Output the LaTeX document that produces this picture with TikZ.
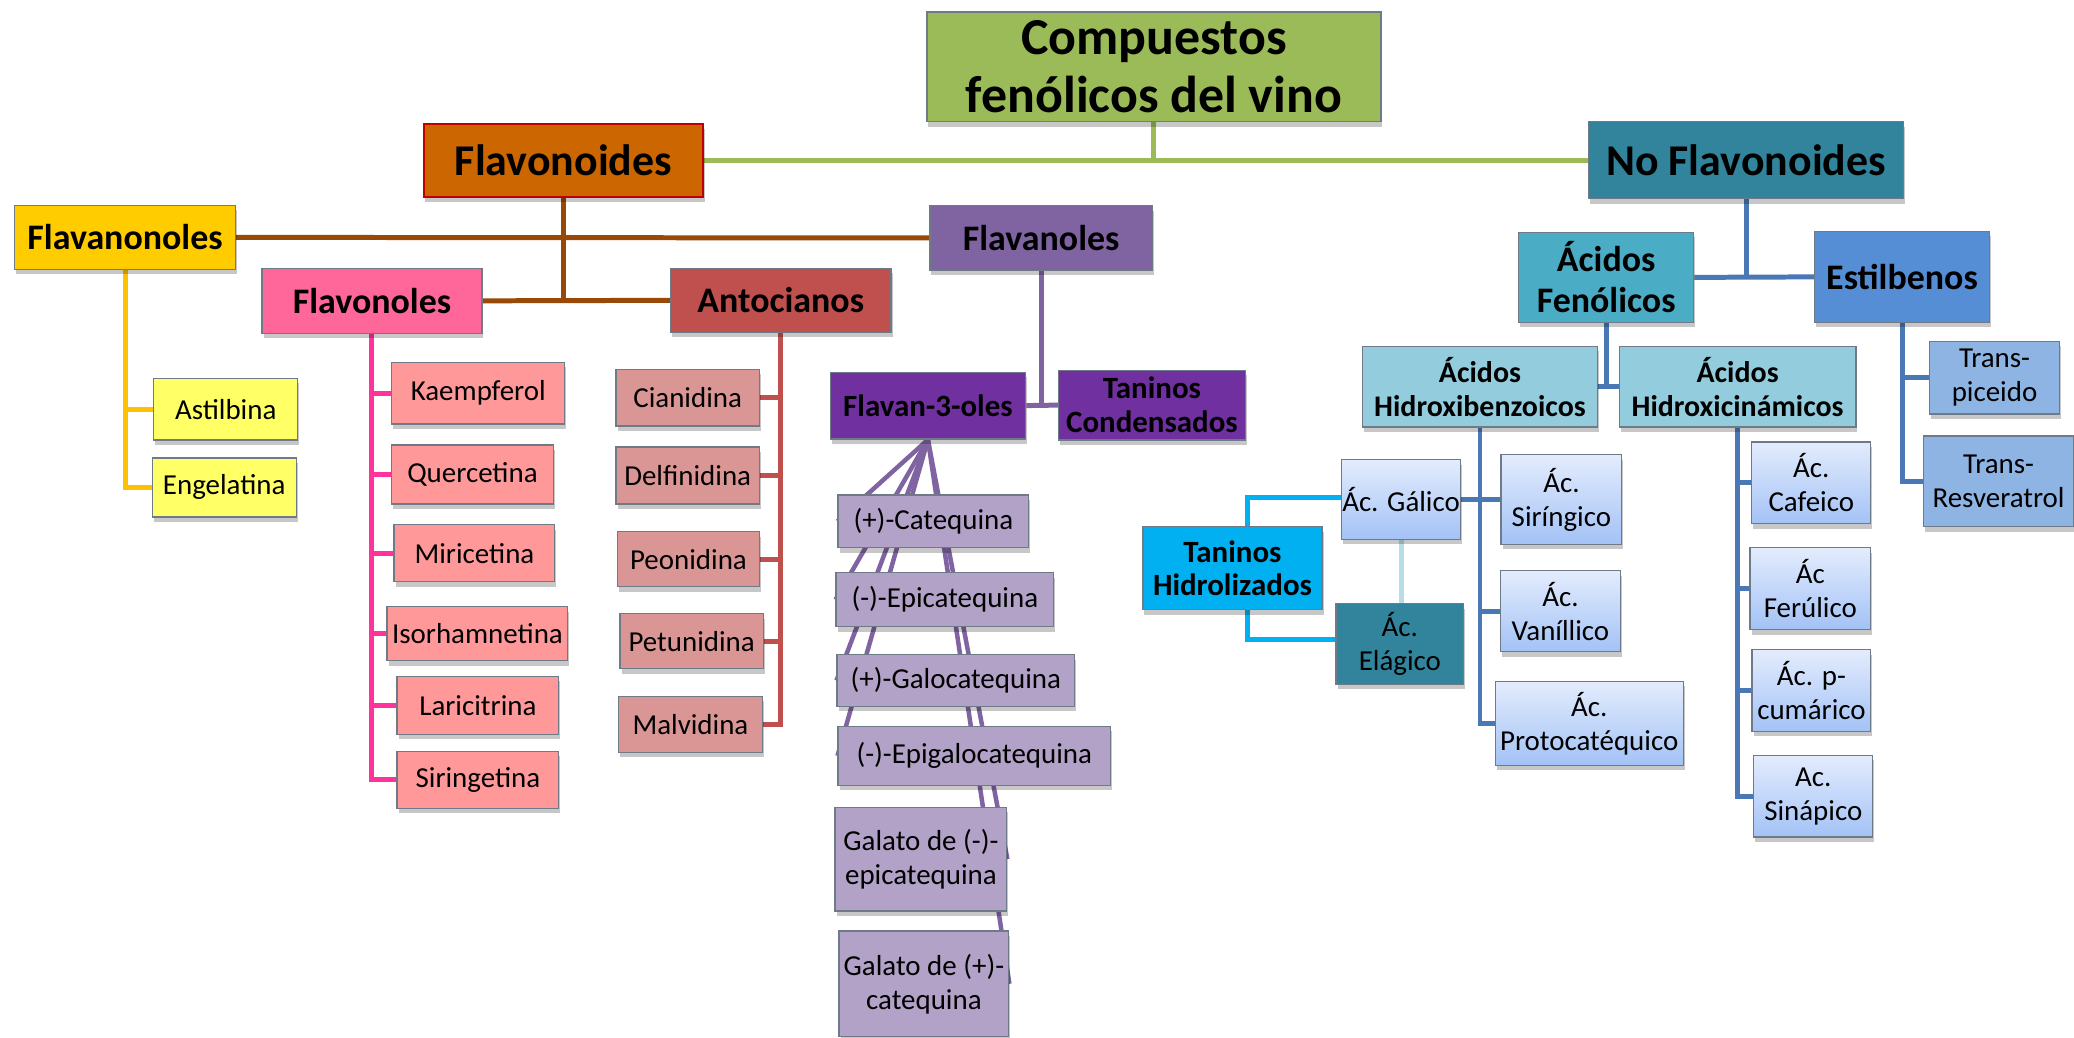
\documentclass[tikz,border=0pt]{standalone}
\usepackage{fontspec}
\setmainfont{Carlito}
\usetikzlibrary{shadows}
\pgfdeclarelayer{background}
\pgfsetlayers{background,main}
\definecolor{boxline}{HTML}{6E7A88}
\definecolor{cTop}{HTML}{9BBB59}
\definecolor{cFlavo}{HTML}{CC6600}
\definecolor{cFlavoLine}{HTML}{C00000}
\definecolor{cNoFlav}{HTML}{31849B}
\definecolor{cFlavanon}{HTML}{FFCC00}
\definecolor{cFlavonol}{HTML}{FF6699}
\definecolor{cAnto}{HTML}{C0504D}
\definecolor{cFlavanol}{HTML}{8064A2}
\definecolor{cAstil}{HTML}{FFFF66}
\definecolor{cPinkKid}{HTML}{FF9999}
\definecolor{cAntoKid}{HTML}{DA9694}
\definecolor{cDeepPurp}{HTML}{7030A0}
\definecolor{cLilac}{HTML}{B2A2C7}
\definecolor{cAcFen}{HTML}{4BACC6}
\definecolor{cEstil}{HTML}{558ED5}
\definecolor{cHidroxi}{HTML}{93CDDD}
\definecolor{cTrans}{HTML}{8EB4E3}
\definecolor{gTop}{HTML}{E3ECFD}
\definecolor{gBot}{HTML}{A3C2F6}
\definecolor{cTanHid}{HTML}{00B0F0}
\definecolor{lGreen}{HTML}{9BBB59}
\definecolor{lBrown}{HTML}{984807}
\definecolor{lYellow}{HTML}{FFC000}
\definecolor{lPink}{HTML}{FF3399}
\definecolor{lRed}{HTML}{C0504D}
\definecolor{lPurp}{HTML}{8064A2}
\definecolor{lBlue}{HTML}{4A78B4}
\definecolor{lCyan}{HTML}{00B0F0}
\definecolor{lLight}{HTML}{B7DEE8}
\begin{document}
\begin{tikzpicture}[x=1pt,y=-1pt,
  box/.style={draw=boxline, line width=1.3pt, inner sep=0pt, align=center,
    drop shadow={shadow xshift=1.5pt,shadow yshift=-5pt,opacity=0.22,fill=black}},
  gbox/.style={box, top color=gTop, bottom color=gBot},
  tNorm/.style={font=\fontsize{29}{34}\selectfont},
  tB52/.style={font=\fontsize{52}{58}\selectfont\bfseries},
  tB44/.style={font=\fontsize{44}{50}\selectfont\bfseries},
  tB36/.style={font=\fontsize{36}{41}\selectfont\bfseries},
  tB31/.style={font=\fontsize{31}{34}\selectfont\bfseries},
  tB30/.style={font=\fontsize{30}{34}\selectfont\bfseries},
  conn/.style={line width=5pt},
  fan/.style={line width=4.5pt, lPurp},
]
% ---------- level 0/1
\node[box, tB52, fill=cTop, minimum width=455pt, minimum height=110pt] (compuestos) at (1156.5,67) {Compuestos\\fenólicos del vino};
\node[box, tB44, fill=cFlavo, draw=cFlavoLine, line width=2pt, minimum width=280.5pt, minimum height=73pt] (flavonoides) at (564.75,160.5) {Flavonoides};
\node[box, tB44, fill=cNoFlav, minimum width=316pt, minimum height=77pt] (noflav) at (1750,160.5) {No Flavonoides};
% ---------- flavonoid groups
\node[box, tB36, fill=cFlavanon, minimum width=221.4pt, minimum height=64.3pt] (flavanonoles) at (125.3,237.9) {Flavanonoles};
\node[box, tB36, fill=cFlavanol, minimum width=223pt, minimum height=65pt] (flavanoles) at (1043.5,238.5) {Flavanoles};
\node[box, tB36, fill=cFlavonol, minimum width=220.4pt, minimum height=65pt] (flavonoles) at (372.8,301.5) {Flavonoles};
\node[box, tB36, fill=cAnto, minimum width=221pt, minimum height=64pt] (antocianos) at (782.5,301) {Antocianos};
% ---------- flavanonoles kids
\node[box, tNorm, fill=cAstil, minimum width=144.5pt, minimum height=62pt] (astilbina) at (226.25,410) {Astilbina};
\node[box, tNorm, fill=cAstil, minimum width=144.5pt, minimum height=59pt] (engelatina) at (224.75,488.5) {Engelatina};
% ---------- flavonoles kids
\node[box, tNorm, fill=cPinkKid, minimum width=173.4pt, minimum height=62pt] (kaempferol) at (479.3,394) {Kaempferol};
\node[box, tNorm, fill=cPinkKid, minimum width=162pt, minimum height=59pt] (quercetina) at (473.5,475.5) {Quercetina};
\node[box, tNorm, fill=cPinkKid, minimum width=161pt, minimum height=57pt] (miricetina) at (475.5,554.5) {Miricetina};
\node[box, tNorm, fill=cPinkKid, minimum width=181pt, minimum height=54pt] (isorhamnetina) at (478.5,635) {Isorhamnetina};
\node[box, tNorm, fill=cPinkKid, minimum width=162pt, minimum height=58pt] (laricitrina) at (479,707) {Laricitrina};
\node[box, tNorm, fill=cPinkKid, minimum width=162pt, minimum height=57pt] (siringetina) at (479,781.5) {Siringetina};
% ---------- antocianos kids
\node[box, tNorm, fill=cAntoKid, minimum width=143.5pt, minimum height=57pt] (cianidina) at (689.25,398.5) {Cianidina};
\node[box, tNorm, fill=cAntoKid, minimum width=143.5pt, minimum height=57pt] (delfinidina) at (689.25,476.5) {Delfinidina};
\node[box, tNorm, fill=cAntoKid, minimum width=142pt, minimum height=55pt] (peonidina) at (690,560.5) {Peonidina};
\node[box, tNorm, fill=cAntoKid, minimum width=143.5pt, minimum height=55pt] (petunidina) at (693.25,642.5) {Petunidina};
\node[box, tNorm, fill=cAntoKid, minimum width=144pt, minimum height=56pt] (malvidina) at (692,726) {Malvidina};
% ---------- flavanoles
\node[box, tB31, fill=cDeepPurp, minimum width=196pt, minimum height=67pt] (flavan3) at (930,406.5) {Flavan-3-oles};
\node[box, tB31, fill=cDeepPurp, minimum width=187pt, minimum height=70pt] (tancond) at (1154.5,406) {Taninos\\Condensados};
\node[box, tNorm, fill=cLilac, minimum width=191pt, minimum height=53pt] (catequina) at (935.5,522.5) {(+)-Catequina};
\node[box, tNorm, fill=cLilac, minimum width=218pt, minimum height=54pt] (epicatequina) at (947,601) {(-)-Epicatequina};
\node[box, tNorm, fill=cLilac, minimum width=238pt, minimum height=52pt] (galocatequina) at (958,682) {(+)-Galocatequina};
\node[box, tNorm, fill=cLilac, minimum width=273pt, minimum height=59pt] (epigalocatequina) at (976.5,757.5) {(-)-Epigalocatequina};
\node[box, tNorm, fill=cLilac, minimum width=172pt, minimum height=104pt] (galatoA) at (923,861) {Galato de (-)-\\epicatequina};
\node[box, tNorm, fill=cLilac, minimum width=170pt, minimum height=106pt] (galatoB) at (926,986) {Galato de (+)-\\catequina};
% ---------- no flavonoides
\node[box, tB36, fill=cAcFen, minimum width=175.5pt, minimum height=90pt] (acfen) at (1609.75,278) {Ácidos\\Fenólicos};
\node[box, tB36, fill=cEstil, minimum width=175.5pt, minimum height=91pt] (estilbenos) at (1906.25,277.5) {Estilbenos};
\node[box, tB30, fill=cHidroxi, minimum width=235.4pt, minimum height=81pt] (hbenz) at (1483.3,387.5) {Ácidos\\Hidroxibenzoicos};
\node[box, tB30, fill=cHidroxi, minimum width=237pt, minimum height=81pt] (hcin) at (1741.5,387.5) {Ácidos\\Hidroxicinámicos};
\node[box, tNorm, fill=cTrans, minimum width=130pt, minimum height=73pt] (piceido) at (1999,378.5) {Trans-\\piceido};
\node[box, tNorm, fill=cTrans, minimum width=150pt, minimum height=91pt] (resveratrol) at (2003,482.5) {Trans-\\Resveratrol};
\node[gbox, tNorm, minimum width=119.6pt, minimum height=80pt] (galico) at (1404.2,500.7) {Ác. Gálico};
\node[box, tB31, fill=cTanHid, minimum width=179.6pt, minimum height=83pt] (tanhid) at (1235.2,569.5) {Taninos\\Hidrolizados};
\node[box, tNorm, fill=cNoFlav, minimum width=128pt, minimum height=81pt] (elagico) at (1403,645.5) {Ác.\\Elágico};
\node[gbox, tNorm, minimum width=121pt, minimum height=90pt] (siringico) at (1564.9,500.7) {Ác.\\Siríngico};
\node[gbox, tNorm, minimum width=120.2pt, minimum height=81pt] (vanillico) at (1563.9,612.5) {Ác.\\Vaníllico};
\node[gbox, tNorm, minimum width=188.5pt, minimum height=84pt] (protocat) at (1592.75,725) {Ác.\\Protocatéquico};
\node[gbox, tNorm, minimum width=119.3pt, minimum height=82pt] (cafeico) at (1815.35,484) {Ác.\\Cafeico};
\node[gbox, tNorm, minimum width=120.7pt, minimum height=82pt] (ferulico) at (1814.35,590) {Ác\\Ferúlico};
\node[gbox, tNorm, minimum width=119pt, minimum height=82pt] (pcumarico) at (1815.5,692) {Ác. p-\\cumárico};
\node[gbox, tNorm, minimum width=119.3pt, minimum height=82pt] (sinapico) at (1817.35,798) {Ac.\\Sinápico};
% ---------- connectors
\begin{pgfonlayer}{background}
\fill[white] (0,0) rectangle (2074,1036);
\draw[conn, lGreen] (compuestos.south) -- (compuestos.south |- flavonoides.east);
\draw[conn, lGreen] (flavonoides.east) -- (noflav.west);
\draw[conn, lBrown] (flavonoides.south) -- (flavonoides.south |- flavonoles.east);
\draw[conn, lBrown] (flavanonoles.east) -- (flavanoles.west);
\draw[conn, lBrown] (flavonoles.east) -- (antocianos.west);
\draw[conn, lYellow] (flavanonoles.south) |- (engelatina.west);
\draw[conn, lYellow] (flavanonoles.south |- astilbina.west) -- (astilbina.west);
\draw[conn, lPink] (flavonoles.south) |- (siringetina.west);
\foreach \n in {kaempferol,quercetina,miricetina,isorhamnetina,laricitrina}
  \draw[conn, lPink] (flavonoles.south |- \n.west) -- (\n.west);
\draw[conn, lRed] (antocianos.south) |- (malvidina.east);
\foreach \n in {cianidina,delfinidina,peonidina,petunidina}
  \draw[conn, lRed] (antocianos.south |- \n.east) -- (\n.east);
\draw[conn, lPurp] (flavanoles.south) -- (flavanoles.south |- flavan3.east);
\draw[conn, lPurp] (flavan3.east) -- (tancond.west);
\foreach \n in {catequina,epicatequina,galocatequina,epigalocatequina}
  \draw[fan] (flavan3.south) -- (\n.west);
\foreach \n in {galatoA,galatoB}
  \draw[fan] (flavan3.south) -- (\n.east);
\draw[conn, lBlue] (noflav.south) -- (noflav.south |- acfen.east);
\draw[conn, lBlue] (acfen.east) -- (estilbenos.west);
\draw[conn, lBlue] (acfen.south) -- (acfen.south |- hbenz.east);
\draw[conn, lBlue] (hbenz.east) -- (hcin.west);
\draw[conn, lBlue] (estilbenos.south) |- (resveratrol.west);
\draw[conn, lBlue] (estilbenos.south |- piceido.west) -- (piceido.west);
\draw[conn, lBlue] (hbenz.south) |- (protocat.west);
\draw[conn, lBlue] (galico.east) -- (siringico.west);
\draw[conn, lBlue] (hbenz.south |- vanillico.west) -- (vanillico.west);
\draw[conn, lBlue] (hcin.south) |- (sinapico.west);
\foreach \n in {cafeico,ferulico,pcumarico}
  \draw[conn, lBlue] (hcin.south |- \n.west) -- (\n.west);
\draw[conn, lCyan] ([xshift=15pt]tanhid.north) |- ([yshift=2pt]galico.west);
\draw[conn, lCyan] ([xshift=15pt]tanhid.south) |- ([yshift=5pt]elagico.west);
\draw[conn, lLight] (galico.south) -- (galico.south |- elagico.north);
\end{pgfonlayer}
\useasboundingbox (0,0) rectangle (2074,1036);
\end{tikzpicture}
\end{document}
